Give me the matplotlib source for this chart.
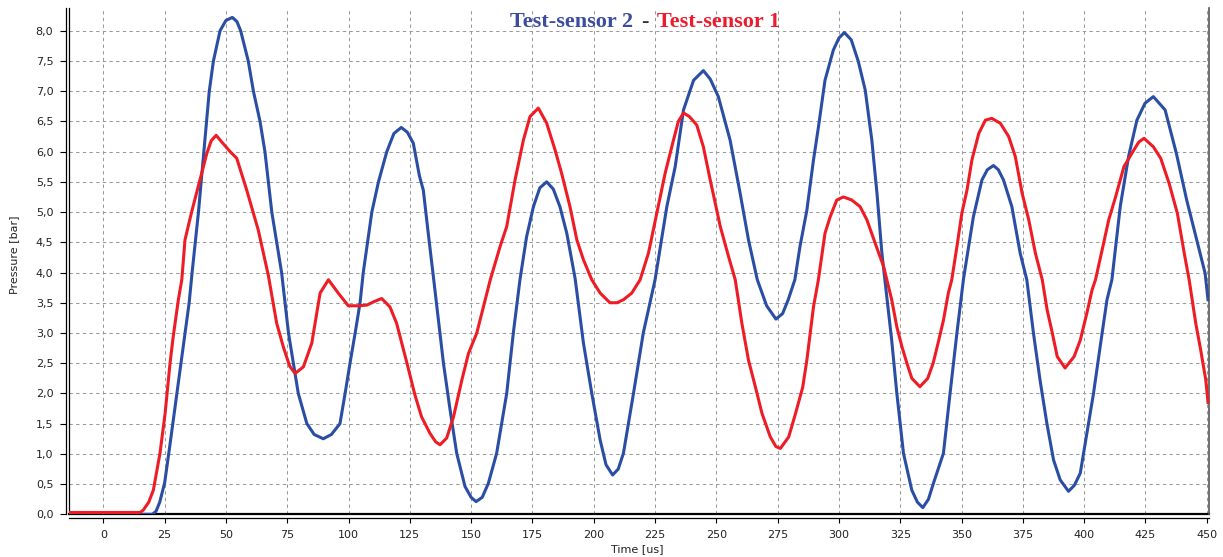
import matplotlib.pyplot as plt
from matplotlib.ticker import MultipleLocator, FuncFormatter

# Test-sensor 2 (blue trace), time in us / pressure in bar
t_s2 = [-14, 20, 21.5, 23, 25, 27, 30, 33, 35, 36.2, 38.8, 41, 43.2, 44.9, 47.6, 50, 52.6, 54.5,
        56, 59.1, 61.2, 63.9, 65.9, 68.7, 70.7, 72.7, 75.5, 77.5, 79.5, 83, 86, 89.7, 93, 96.5,
        98.6, 100.6, 102.7, 104.7, 106, 109.5, 112.2, 115.6, 118.5, 121.5, 124, 126.4, 128.9,
        130.5, 132.5, 134.6, 138.7, 141.4, 144.1, 147.5, 150, 152, 154.5, 157, 160.4, 164.5,
        167.2, 169.9, 172.6, 175.4, 178, 180.8, 183.5, 186.2, 189, 192.4, 195.8, 199.2, 202.6,
        205, 207.7, 210, 212.1, 216.2, 220.2, 225, 229.8, 233.2, 236.6, 240.7, 244.7, 247.5,
        250.8, 255.6, 259.7, 263.1, 266.7, 270.5, 274.3, 277, 279.3, 282, 284.1, 286.9, 289.6,
        291.6, 294.3, 297.7, 300, 302.2, 305, 307.9, 310.7, 313.4, 315.5, 317.5, 319.2, 321.5,
        323.6, 326.3, 329.7, 332, 334.2, 336.5, 338.5, 342.6, 345.3, 348.1, 350.8, 354.8, 358.3,
        360.5, 363, 365, 367.1, 370.5, 373.9, 376.6, 379.3, 382, 384.8, 387.5, 390.2, 393.6,
        396, 398.4, 401.1, 403.8, 406.5, 409.3, 411.3, 414.7, 418.1, 421.5, 424.8, 428.2, 433,
        437.6, 441.8, 445.9, 449.3, 450.5]
p_s2 = [0, 0, 0.05, 0.2, 0.52, 1.1, 2.0, 2.9, 3.5, 4.0, 5.0, 6.0, 7.0, 7.5, 8.0, 8.17, 8.22, 8.15,
        8.0, 7.5, 7.0, 6.5, 6.0, 5.0, 4.5, 4.0, 3.0, 2.5, 2.0, 1.5, 1.32, 1.25, 1.32, 1.5,
        2.0, 2.5, 3.0, 3.5, 4.0, 5.0, 5.5, 6.0, 6.3, 6.4, 6.32, 6.14, 5.6,
        5.36, 4.65, 3.93, 2.5, 1.73, 1.01, 0.46, 0.28, 0.21, 0.28, 0.51, 1.01, 2.0,
        3.0, 3.88, 4.59, 5.09, 5.4, 5.5, 5.38, 5.09, 4.65, 3.9, 2.83, 2.0, 1.23,
        0.82, 0.65, 0.75, 1.01, 2.0, 3.0, 3.88, 5.09, 5.75, 6.69, 7.18, 7.34, 7.2,
        6.91, 6.19, 5.31, 4.54, 3.88, 3.45, 3.23, 3.32, 3.55, 3.88, 4.43, 5.03, 5.86,
        6.4, 7.18, 7.68, 7.88, 7.97, 7.85, 7.49, 7.02, 6.19, 5.31, 4.32, 3.71, 2.88,
        2.0, 1.01, 0.40, 0.2, 0.11, 0.25, 0.51, 1.01, 2.0, 3.0, 3.9, 4.92, 5.53,
        5.7, 5.77, 5.7, 5.53, 5.09, 4.32, 3.88, 3.0, 2.22, 1.5, 0.9, 0.57, 0.38,
        0.48, 0.68, 1.34, 2.0, 2.77, 3.55, 3.88, 5.09, 5.92, 6.52, 6.8, 6.91, 6.69,
        5.97, 5.2, 4.54, 3.99, 3.55]

# Test-sensor 1 (red trace)
t_s1 = [-14, 15, 16.3, 18.5, 20.4, 23.1, 25.2, 27.2, 28.5, 30.6, 32, 33.3, 36, 39.4, 42.2, 44, 46,
        48.5, 51.7, 54.4, 58.5, 63.2, 67.3, 70.7, 73.4, 76, 78.2, 81.6, 85, 88.4, 91.8, 95.8,
        99.9, 103.9, 107.4, 110.5, 113.5, 116.9, 119.6, 123.7, 127.1, 129.8, 133.2, 135.5,
        137.3, 140, 142.8, 146.2, 148.9, 152.3, 155, 157.8, 161.8, 164.5, 167.9, 171.3, 174,
        177.4, 180.8, 184.2, 186.9, 190.3, 193.1, 195.8, 199.2, 202.6, 206.6, 209.5, 212.1,
        215.5, 218.9, 222.3, 225.7, 229.1, 232.5, 234.5, 236.6, 239, 242, 244.7, 247.5, 251.6,
        255, 257.7, 260.4, 263.1, 265.9, 268.6, 272, 274.3, 276.1, 279.5, 282.3, 285.2, 286.9,
        289.6, 291.6, 294.3, 296.4, 299.1, 301.8, 305.2, 308.6, 311.4, 314.8, 318.2, 321.5,
        323.6, 325.7, 327.7, 329.7, 333, 336.2, 338.4, 340.4, 342.6, 344.6, 346, 348.1, 350.1,
        352.2, 354.2, 357, 359.7, 362.3, 365.8, 369.2, 371.9, 374.7, 377.4, 380.1, 382.9,
        384.9, 387, 389, 392.2, 395.9, 398.4, 401.1, 403.2, 404.6, 407.3, 410, 412.8, 416.2,
        420.3, 422.3, 424.4, 428.2, 431.2, 434.6, 438, 440.8, 442.8, 445.5, 447.5, 449.6, 450.5]
p_s1 = [0.03, 0.03, 0.07, 0.2, 0.4, 1.01, 1.67, 2.5, 2.94, 3.55, 3.88, 4.54, 5.0, 5.53, 5.97, 6.18, 6.27,
        6.15, 6.0, 5.89, 5.36, 4.7, 3.95, 3.16, 2.77, 2.45, 2.33, 2.44, 2.83, 3.66, 3.88, 3.66,
        3.45, 3.45, 3.46, 3.52, 3.57, 3.43, 3.16, 2.52, 1.97, 1.61, 1.34, 1.2,
        1.15, 1.26, 1.61, 2.22, 2.66, 3.0, 3.43, 3.88, 4.43, 4.76, 5.53, 6.19, 6.58,
        6.72, 6.47, 6.03, 5.64, 5.09, 4.54, 4.21, 3.88, 3.66, 3.5, 3.5, 3.55,
        3.66, 3.88, 4.32, 4.98, 5.64, 6.19, 6.5, 6.64, 6.58, 6.44, 6.08, 5.53, 4.76,
        4.26, 3.88, 3.16, 2.55, 2.11, 1.67, 1.28, 1.12, 1.09, 1.28, 1.67, 2.1, 2.55,
        3.43, 3.88, 4.65, 4.92, 5.2, 5.25, 5.2, 5.09, 4.87, 4.48, 4.1, 3.55,
        3.1, 2.77, 2.5, 2.25, 2.11, 2.25, 2.5, 2.83, 3.21, 3.66, 3.88, 4.43, 4.98,
        5.36, 5.86, 6.3, 6.52, 6.55, 6.47, 6.25, 5.92, 5.31, 4.87, 4.32, 3.88,
        3.38, 3.0, 2.61, 2.42, 2.61, 2.88, 3.33, 3.71, 3.88, 4.37, 4.87, 5.25, 5.75,
        6.03, 6.16, 6.22, 6.08, 5.89, 5.48, 4.98, 4.32, 3.88, 3.16, 2.72, 2.22, 1.85]

W, H = 1223, 557
fig = plt.figure(figsize=(W / 100, H / 100), dpi=100)
# plot area in pixels: left 69, right 1209, top 8, zero line at 514.3
ax = fig.add_axes([69 / W, 1 - 514.3 / H, (1209 - 69) / W, (514.3 - 8) / H])

ax.set_xlim(-14, 450.9)
ax.set_ylim(0, 8.376)

ax.plot(t_s2, p_s2, color='#2a4ea4', lw=2.2, zorder=3, solid_joinstyle='round')
ax.plot(t_s1, p_s1, color='#ee1c25', lw=2.2, zorder=4, solid_joinstyle='round')

# zero line and inner frame edge
ax.axhline(0, color='black', lw=1.6, zorder=2, clip_on=False)
ax.axvline(-14, color='black', lw=0.9, zorder=2, clip_on=False)

ax.xaxis.set_major_locator(MultipleLocator(25))
ax.yaxis.set_major_locator(MultipleLocator(0.5))
ax.yaxis.set_major_formatter(FuncFormatter(lambda v, _: f'{v:.1f}'.replace('.', ',')))
ax.xaxis.set_major_formatter(FuncFormatter(lambda v, _: f'{v:.0f}'))

ax.grid(True, color='#9a9a9a', lw=0.75, linestyle=(0, (3.2, 3.2)))
ax.set_axisbelow(True)

ax.spines['top'].set_visible(False)
ax.spines['right'].set_color('#555555')
ax.spines['right'].set_linewidth(1.2)
ax.spines['left'].set_position(('outward', 2.4))
ax.spines['bottom'].set_position(('outward', 2.6))
for s in ('left', 'bottom'):
    ax.spines[s].set_linewidth(0.9)

ax.tick_params(axis='y', direction='out', length=4.6, width=0.8, pad=4.3,
               labelsize=8, labelcolor='#222222')
ax.tick_params(axis='x', direction='out', length=3.6, width=0.8, pad=5,
               labelsize=8, labelcolor='#222222')

fig.text(14 / W, 1 - 255 / H, 'Pressure [bar]', rotation=90, fontsize=8,
         ha='center', va='center', color='#222222')
fig.text(637 / W, 1 - 549 / H, 'Time [us]', fontsize=8,
         ha='center', va='center', color='#222222')

title_kw = dict(family='Liberation Serif', weight='bold', fontsize=16, va='baseline')
fig.text(510 / W, 1 - 26.7 / H, 'Test-sensor 2', color='#3c4c9e', ha='left', **title_kw)
fig.text(645 / W, 1 - 26.7 / H, '-', color='#333333', ha='center', **title_kw)
fig.text(657 / W, 1 - 26.7 / H, 'Test-sensor 1', color='#ec1b2e', ha='left', **title_kw)

fig.savefig('out.png', dpi=100)
